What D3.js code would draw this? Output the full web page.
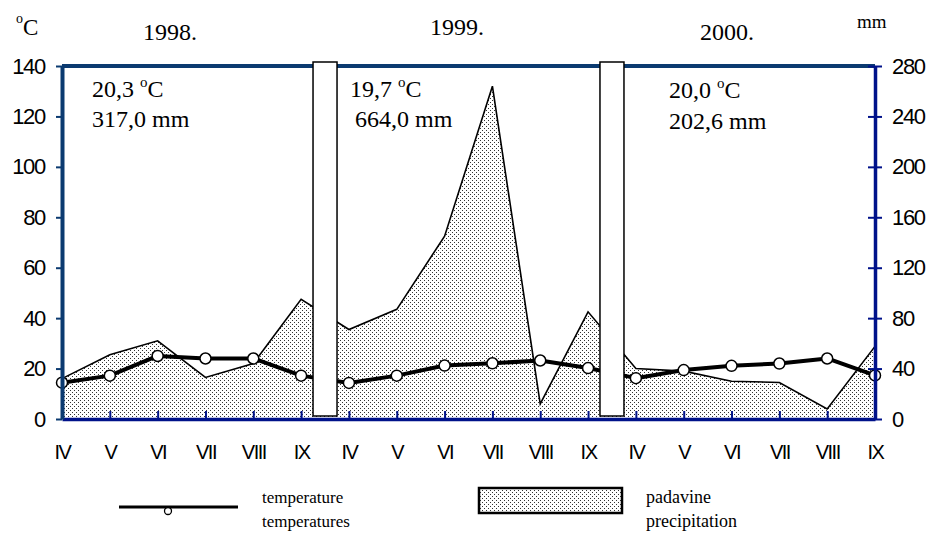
<!DOCTYPE html>
<html><head><meta charset="utf-8">
<script src="https://cdn.jsdelivr.net/npm/d3@7"></script>
<style>body{margin:0;background:#fff}svg{display:block}</style>
</head><body>
<svg id="c" width="930" height="535"></svg>
<script>
// ---- data ----
const months = ["IV","V","VI","VII","VIII","IX","IV","V","VI","VII","VIII","IX","IV","V","VI","VII","VIII","IX"];
const years = ["1998.","1999.","2000."];
const temperature = [14.4,17.2,25,24,24,17.2, 14.3,17.2,21.2,22.1,23.2,20.2, 16.2,19.4,21.1,22,24,17.3];
const precipitation = [32,51,62,33,44,95, 71,87,145,264,12,85, 40,38,30,29,8,57.6];
const yearTemp = ["20,3","19,7","20,0"];
const yearPrec = ["317,0","664,0","202,6"];
const leftTicks = [0,20,40,60,80,100,120,140];
const rightTicks = [0,40,80,120,160,200,240,280];

const svg = d3.select("#c");
const L = 62, R = 875, T = 66, B = 419;
const idx = d3.range(months.length);
const x = d3.scalePoint().domain(idx).range([L, R]);
const yT = d3.scaleLinear().domain([0,140]).range([B, T]);
const yP = d3.scaleLinear().domain([0,280]).range([B, T]);

const defs = svg.append("defs");
const pat = defs.append("pattern").attr("id","dots").attr("patternUnits","userSpaceOnUse")
  .attr("width",4).attr("height",4);
pat.append("rect").attr("width",4).attr("height",4).attr("fill","#fff");
pat.append("rect").attr("x",0).attr("y",0).attr("width",1).attr("height",1).attr("fill","#333");
pat.append("rect").attr("x",2).attr("y",2).attr("width",1).attr("height",1).attr("fill","#333");

// precipitation area
svg.append("path").datum(idx)
  .attr("d", d3.area().x(i=>x(i)).y0(B).y1(i=>yP(precipitation[i])))
  .attr("fill","url(#dots)");
svg.append("path").datum(idx)
  .attr("d", d3.line().x(i=>x(i)).y(i=>yP(precipitation[i])))
  .attr("fill","none").attr("stroke","#000").attr("stroke-width",1.6);

// temperature line
svg.append("path").datum(idx)
  .attr("d", d3.line().x(i=>x(i)).y(i=>yT(temperature[i])))
  .attr("fill","none").attr("stroke","#000").attr("stroke-width",4).attr("stroke-linejoin","round");
svg.selectAll("circle.t").data(idx).enter().append("circle")
  .attr("cx",i=>x(i)).attr("cy",i=>yT(temperature[i])).attr("r",5.5)
  .attr("fill","#fff").attr("stroke","#000").attr("stroke-width",1.5);

// top border
svg.append("line").attr("x1",L).attr("x2",R).attr("y1",T).attr("y2",T)
  .attr("stroke","#0b3a70").attr("stroke-width",4);

// bottom axis
const gx = svg.append("g").attr("transform",`translate(0,${B})`)
  .call(d3.axisBottom(x).tickSize(-8).tickSizeOuter(0).tickFormat(i=>months[i]));
gx.select(".domain").attr("stroke","#00128a").attr("stroke-width",3.5);
gx.selectAll(".tick line").attr("stroke","#00128a").attr("stroke-width",2);
gx.selectAll(".tick text").attr("y",40).attr("dy",null)
  .style("font-family","'Liberation Sans',Arial,sans-serif").style("font-size","20px")
  .style("letter-spacing","-1.5px").attr("fill","#000");

// left axis
const gl = svg.append("g").attr("transform",`translate(${L},0)`)
  .call(d3.axisLeft(yT).tickValues(leftTicks).tickSize(6).tickSizeOuter(0));
gl.select(".domain").attr("stroke","#0b3a70").attr("stroke-width",4);
gl.selectAll(".tick line").attr("stroke","#0b3a70").attr("stroke-width",2);
gl.selectAll(".tick text").attr("x",-17)
  .style("font-family","'Liberation Sans',Arial,sans-serif").style("font-size","22px")
  .style("letter-spacing","-1.3px").attr("fill","#000");

// right axis
const gr = svg.append("g").attr("transform",`translate(${R},0)`)
  .call(d3.axisRight(yP).tickValues(rightTicks).tickSize(7).tickSizeOuter(0));
gr.select(".domain").attr("stroke","#00128a").attr("stroke-width",3.5);
gr.selectAll(".tick line").attr("x1",-7).attr("stroke","#00128a").attr("stroke-width",2);
gr.selectAll(".tick text").attr("x",17)
  .style("font-family","'Liberation Sans',Arial,sans-serif").style("font-size","22px")
  .style("letter-spacing","-1.3px").attr("fill","#000");

// year separators
[5,11].forEach(i=>{
  const cx = (x(i)+x(i+1))/2;
  svg.append("rect").attr("x",cx-12).attr("y",62).attr("width",24).attr("height",354)
    .attr("fill","#fff").attr("stroke","#000").attr("stroke-width",1.5);
});

const serif = "'Liberation Serif','Times New Roman',serif";
// header texts
const yearPos = [[143,40],[430,35],[700,40]];
years.forEach((t,k)=>{
  svg.append("text").attr("x",yearPos[k][0]).attr("y",yearPos[k][1]).text(t)
    .style("font-family",serif).style("font-size","24px");
});
const deg = svg.append("text").attr("x",16).attr("y",35).style("font-family",serif).style("font-size","23px");
deg.append("tspan").text("o").style("font-size","14px").attr("dy",-12);
deg.append("tspan").text("C").attr("dy",12);
svg.append("text").attr("x",857).attr("y",28).text("mm").style("font-family",serif).style("font-size","19px");

// annual summaries
const sumPos = [[92,97,92,127],[350,97,355,127],[669,98,669,129]];
yearTemp.forEach((t,k)=>{
  const p = sumPos[k];
  const tx = svg.append("text").attr("x",p[0]).attr("y",p[1]).style("font-family",serif).style("font-size","24px");
  tx.append("tspan").text(t+" ");
  tx.append("tspan").text("o").style("font-size","15px").attr("dy",-10);
  tx.append("tspan").text("C").attr("dy",10);
  svg.append("text").attr("x",p[2]).attr("y",p[3]).text(yearPrec[k]+" mm")
    .style("font-family",serif).style("font-size","24px");
});

// legend
svg.append("line").attr("x1",119).attr("x2",238).attr("y1",507).attr("y2",507)
  .attr("stroke","#000").attr("stroke-width",3);
svg.append("circle").attr("cx",168).attr("cy",511).attr("r",3.5)
  .attr("fill","#fff").attr("stroke","#000").attr("stroke-width",1.3);
svg.append("text").attr("x",262).attr("y",503).text("temperature").style("font-family",serif).style("font-size","17px");
svg.append("text").attr("x",262).attr("y",527).text("temperatures").style("font-family",serif).style("font-size","17px");
svg.append("rect").attr("x",479).attr("y",488).attr("width",143).attr("height",25)
  .attr("fill","url(#dots)").attr("stroke","#000").attr("stroke-width",2.5);
svg.append("text").attr("x",646).attr("y",503).text("padavine").style("font-family",serif).style("font-size","18px");
svg.append("text").attr("x",646).attr("y",527).text("precipitation").style("font-family",serif).style("font-size","18px");
</script>
</body></html>
